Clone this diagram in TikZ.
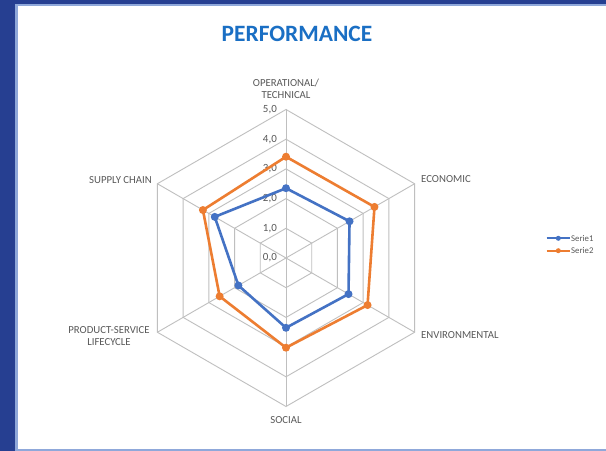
\documentclass[tikz,border=0pt]{standalone}
\usepackage{fontspec}
\setmainfont{Carlito}
\definecolor{frameblue}{HTML}{263F91}
\definecolor{framelight}{HTML}{8FA8DA}
\definecolor{titleblue}{HTML}{1A6FC4}
\definecolor{gridgray}{HTML}{BFBFBF}
\definecolor{labelgray}{HTML}{595959}
\definecolor{serblue}{HTML}{4472C4}
\definecolor{serorange}{HTML}{ED7D31}
\begin{document}
\begin{tikzpicture}[x=1bp,y=1bp,
  gridline/.style={draw=gridgray, line width=0.9bp},
  axlabel/.style={text=labelgray, font=\fontsize{10.8}{11.8}\selectfont, inner sep=0pt, align=center},
  scalelabel/.style={text=labelgray, font=\fontsize{11}{12}\selectfont, inner sep=0pt, anchor=east},
  bdot/.style={circle, fill=serblue, inner sep=0pt, minimum size=8bp},
  odot/.style={circle, fill=serorange, inner sep=0pt, minimum size=8bp},
  bline/.style={draw=serblue, line width=2.6bp, line join=round},
  oline/.style={draw=serorange, line width=2.6bp, line join=round},
  legdot/.style={circle, inner sep=0pt, minimum size=5bp},
  legtext/.style={text=labelgray, font=\fontsize{8.8}{10}\selectfont, inner sep=0pt, anchor=west}
]
\useasboundingbox (0,0) rectangle (606,451);
\fill[white] (0,0) rectangle (606,451);
% frame
\fill[frameblue] (0,447) rectangle (606,451);
\fill[frameblue] (0,0) rectangle (15,451);
\fill[framelight] (15,444.5) rectangle (606,447);
\fill[framelight] (15,0) rectangle (18,447);
\fill[framelight] (15,0) rectangle (606,2);
% title
\node[font=\fontsize{23.5}{26}\selectfont\bfseries, text=titleblue] (title) at (297,417.2) {PERFORMANCE};
% centre
\coordinate (C) at (286,193);
% grid rings
\foreach \k in {1,...,5}{
  \draw[gridline] ([shift={(90:{\k*29.7})}]C)
    -- ([shift={(30:{\k*29.7})}]C)
    -- ([shift={(-30:{\k*29.7})}]C)
    -- ([shift={(-90:{\k*29.7})}]C)
    -- ([shift={(-150:{\k*29.7})}]C)
    -- ([shift={(150:{\k*29.7})}]C) -- cycle;
}
% spokes
\foreach \a/\n in {90/1,30/2,-30/3,-90/4,-150/5,150/6}{
  \coordinate (v\n) at ([shift={(\a:148.5)}]C);
  \draw[gridline] (C) -- (v\n);
}
% scale labels
\foreach \k/\t in {0/{0,0},1/{1,0},2/{2,0},3/{3,0},4/{4,0},5/{5,0}}{
  \node[scalelabel] (s\k) at ([shift={(-9,{\k*29.7})}]C) {\t};
}
% axis labels
\node[axlabel] (l1) at (286,362.5) {OPERATIONAL/\\TECHNICAL};
\node[axlabel, anchor=west] (l2) at (421,271.7) {ECONOMIC};
\node[axlabel, anchor=west] (l3) at (421,116) {ENVIRONMENTAL};
\node[axlabel] (l4) at (286,31) {SOCIAL};
\node[axlabel] (l5) at (109,115) {PRODUCT-SERVICE\\LIFECYCLE};
\node[axlabel, anchor=east] (l6) at (152,271) {SUPPLY CHAIN};
% series 2 (orange)
\foreach \a/\v/\n in {90/3.41/1,30/3.44/2,-30/3.17/3,-90/3.02/4,-150/2.58/5,150/3.23/6}{
  \coordinate (o\n) at ([shift={(\a:{\v*29.7})}]C);
}
\draw[oline] (o1) -- (o2) -- (o3) -- (o4) -- (o5) -- (o6) -- cycle;
\foreach \n in {1,...,6}{ \node[odot] (od\n) at (o\n) {}; }
% series 1 (blue)
\foreach \a/\v/\n in {90/2.35/1,30/2.47/2,-30/2.43/3,-90/2.35/4,-150/1.85/5,150/2.77/6}{
  \coordinate (b\n) at ([shift={(\a:{\v*29.7})}]C);
}
\draw[bline] (b1) -- (b2) -- (b3) -- (b4) -- (b5) -- (b6) -- cycle;
\foreach \n in {1,...,6}{ \node[bdot] (bd\n) at (b\n) {}; }
% legend
\coordinate (lb1) at (546.5,212.7);
\coordinate (lb2) at (570,212.7);
\draw[draw=serblue, line width=2bp] (lb1) -- (lb2);
\node[legdot, fill=serblue] (lbd) at (558.3,212.7) {};
\node[legtext] (leg1) at (571,212.7) {Serie1};
\coordinate (lo1) at (546.5,200.3);
\coordinate (lo2) at (570,200.3);
\draw[draw=serorange, line width=2bp] (lo1) -- (lo2);
\node[legdot, fill=serorange] (lod) at (558.3,200.3) {};
\node[legtext] (leg2) at (571,200.3) {Serie2};
\end{tikzpicture}
\end{document}
